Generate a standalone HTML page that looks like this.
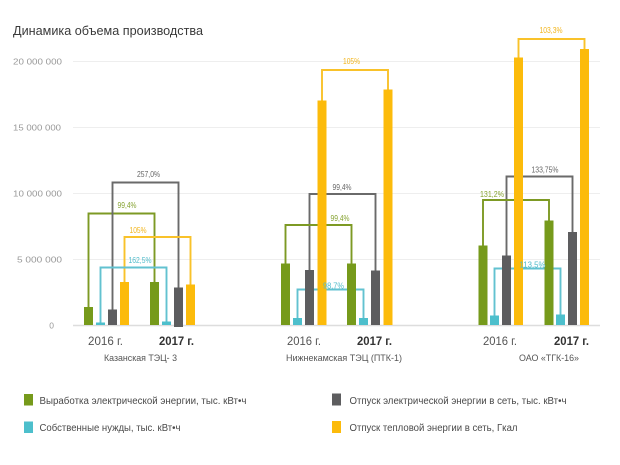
<!DOCTYPE html>
<html><head><meta charset="utf-8">
<style>
html,body{margin:0;padding:0;background:#fff;}
svg{display:block;}
text{font-family:"Liberation Sans","DejaVu Sans",sans-serif;}
</style></head>
<body>
<svg width="620" height="465" viewBox="0 0 620 465" xmlns="http://www.w3.org/2000/svg">
<rect width="620" height="465" fill="#fff"/>
<text x="13" y="35" font-size="13" fill="#3a3a3a" textLength="190" lengthAdjust="spacingAndGlyphs">Динамика объема производства</text>

<!-- grid -->
<g stroke="#eeeeee" stroke-width="1">
<line x1="73" y1="61.5" x2="600" y2="61.5"/>
<line x1="73" y1="127.5" x2="600" y2="127.5"/>
<line x1="73" y1="193.5" x2="600" y2="193.5"/>
<line x1="73" y1="259.5" x2="600" y2="259.5"/>
</g>
<line x1="73" y1="325.5" x2="600" y2="325.5" stroke="#dddddd" stroke-width="1.5"/>

<g font-size="8.5" fill="#999" text-anchor="end">
<text x="62" y="64.5" textLength="49" lengthAdjust="spacingAndGlyphs">20 000 000</text>
<text x="61" y="130.5" textLength="48" lengthAdjust="spacingAndGlyphs">15 000 000</text>
<text x="62" y="196.5" textLength="49" lengthAdjust="spacingAndGlyphs">10 000 000</text>
<text x="62" y="262.5" textLength="45" lengthAdjust="spacingAndGlyphs">5 000 000</text>
<text x="54" y="328.5">0</text>
</g>

<!-- brackets -->
<g fill="none" stroke-width="1.9">
<!-- group 1 -->
<path d="M88.5 307 V213.5 H154.5 V282" stroke="#7d9a24"/>
<path d="M112.5 309.5 V182.5 H178.5 V287.5" stroke="#6a6a6a"/>
<path d="M124.5 282 V237 H190.5 V284.5" stroke="#f9c22a"/>
<path d="M100.5 322.5 V267.5 H166.5 V321.5" stroke="#62c2d0"/>
<!-- group 2 -->
<path d="M322 100.5 V70 H388 V89.5" stroke="#f9c22a"/>
<path d="M309.5 270 V194 H375.5 V270.5" stroke="#6a6a6a"/>
<path d="M285.5 263.5 V225 H351.5 V263.5" stroke="#7d9a24"/>
<path d="M297.5 318 V289.5 H363.5 V318" stroke="#62c2d0"/>
<!-- group 3 -->
<path d="M518.5 57.5 V39 H584.5 V49" stroke="#f9c22a"/>
<path d="M506.5 255.5 V176.5 H572.5 V232" stroke="#6a6a6a"/>
<path d="M483 245.5 V200 H549 V220.5" stroke="#7d9a24"/>
<path d="M494.5 315.5 V268.5 H560.5 V314.5" stroke="#62c2d0"/>
</g>

<!-- bars -->
<g>
<!-- group 1 -->
<rect x="84" y="307" width="9" height="18" fill="#769a1b"/>
<rect x="96" y="322.5" width="9" height="2.5" fill="#4dbfcc"/>
<rect x="108" y="309.5" width="9" height="15.5" fill="#5d5d5f"/>
<rect x="120" y="282" width="9" height="43" fill="#fcbb0b"/>
<rect x="150" y="282" width="9" height="43" fill="#769a1b"/>
<rect x="162" y="321.5" width="9" height="3.5" fill="#4dbfcc"/>
<rect x="174" y="287.5" width="9" height="39.5" fill="#5d5d5f"/>
<rect x="186" y="284.5" width="9" height="40.5" fill="#fcbb0b"/>
<!-- group 2 -->
<rect x="281" y="263.5" width="9" height="61.5" fill="#769a1b"/>
<rect x="293" y="318" width="9" height="7" fill="#4dbfcc"/>
<rect x="305" y="270" width="9" height="55" fill="#5d5d5f"/>
<rect x="317.5" y="100.5" width="9" height="224.5" fill="#fcbb0b"/>
<rect x="347" y="263.5" width="9" height="61.5" fill="#769a1b"/>
<rect x="359" y="318" width="9" height="7" fill="#4dbfcc"/>
<rect x="371" y="270.5" width="9" height="54.5" fill="#5d5d5f"/>
<rect x="383.5" y="89.5" width="9" height="235.5" fill="#fcbb0b"/>
<!-- group 3 -->
<rect x="478.5" y="245.5" width="9" height="79.5" fill="#769a1b"/>
<rect x="490" y="315.5" width="9" height="9.5" fill="#4dbfcc"/>
<rect x="502" y="255.5" width="9" height="69.5" fill="#5d5d5f"/>
<rect x="514" y="57.5" width="9" height="267.5" fill="#fcbb0b"/>
<rect x="544.5" y="220.5" width="9" height="104.5" fill="#769a1b"/>
<rect x="556" y="314.5" width="9" height="10.5" fill="#4dbfcc"/>
<rect x="568" y="232" width="9" height="93" fill="#5d5d5f"/>
<rect x="580" y="49" width="9" height="276" fill="#fcbb0b"/>
</g>

<!-- percent labels -->
<g font-size="8" text-anchor="middle">
<text x="127" y="208" fill="#86a332" textLength="19" lengthAdjust="spacingAndGlyphs">99,4%</text>
<text x="148.5" y="177" fill="#666" textLength="23" lengthAdjust="spacingAndGlyphs">257,0%</text>
<text x="138" y="233" fill="#f2b51c" textLength="17" lengthAdjust="spacingAndGlyphs">105%</text>
<text x="140" y="263" fill="#52bccb" textLength="23" lengthAdjust="spacingAndGlyphs">162,5%</text>

<text x="351.5" y="64" fill="#f2b51c" textLength="17" lengthAdjust="spacingAndGlyphs">105%</text>
<text x="342" y="190" fill="#666" textLength="19" lengthAdjust="spacingAndGlyphs">99,4%</text>
<text x="340" y="221" fill="#86a332" textLength="19" lengthAdjust="spacingAndGlyphs">99,4%</text>
<text x="333.5" y="288.5" fill="#52bccb" textLength="21" lengthAdjust="spacingAndGlyphs">98,7%</text>

<text x="551" y="33" fill="#f2b51c" textLength="23" lengthAdjust="spacingAndGlyphs">103,3%</text>
<text x="545" y="172.5" fill="#666" textLength="27" lengthAdjust="spacingAndGlyphs">133,75%</text>
<text x="492" y="197" fill="#86a332" textLength="24" lengthAdjust="spacingAndGlyphs">131,2%</text>
<text x="532.5" y="267.5" fill="#52bccb" textLength="26" lengthAdjust="spacingAndGlyphs">113,5%</text>
</g>

<!-- x labels -->
<g font-size="12">
<text x="88" y="345" fill="#555" textLength="35" lengthAdjust="spacingAndGlyphs">2016 г.</text>
<text x="159" y="345" fill="#333" font-weight="bold" textLength="35" lengthAdjust="spacingAndGlyphs">2017 г.</text>
<text x="287" y="345" fill="#555" textLength="34" lengthAdjust="spacingAndGlyphs">2016 г.</text>
<text x="357" y="345" fill="#333" font-weight="bold" textLength="35" lengthAdjust="spacingAndGlyphs">2017 г.</text>
<text x="483" y="345" fill="#555" textLength="34" lengthAdjust="spacingAndGlyphs">2016 г.</text>
<text x="554" y="345" fill="#333" font-weight="bold" textLength="35" lengthAdjust="spacingAndGlyphs">2017 г.</text>
</g>
<g font-size="9.5" fill="#555">
<text x="104" y="361" textLength="73" lengthAdjust="spacingAndGlyphs">Казанская ТЭЦ- 3</text>
<text x="286" y="361" textLength="116" lengthAdjust="spacingAndGlyphs">Нижнекамская ТЭЦ (ПТК-1)</text>
<text x="519" y="361" textLength="60" lengthAdjust="spacingAndGlyphs">ОАО «ТГК-16»</text>
</g>

<!-- legend -->
<rect x="24" y="394" width="9" height="11.5" fill="#769a1b"/>
<rect x="24" y="421.5" width="9" height="11.5" fill="#4dbfcc"/>
<rect x="332" y="393.5" width="9" height="12" fill="#5d5d5f"/>
<rect x="332" y="421" width="9" height="12" fill="#fcbb0b"/>
<g font-size="10" fill="#4a4a4a">
<text x="39.5" y="404" textLength="207" lengthAdjust="spacingAndGlyphs">Выработка электрической энергии, тыс. кВт•ч</text>
<text x="39.5" y="431" textLength="141" lengthAdjust="spacingAndGlyphs">Собственные нужды, тыс. кВт•ч</text>
<text x="349.5" y="404" textLength="217" lengthAdjust="spacingAndGlyphs">Отпуск электрической энергии в сеть, тыс. кВт•ч</text>
<text x="349.5" y="431" textLength="168" lengthAdjust="spacingAndGlyphs">Отпуск тепловой энергии в сеть, Гкал</text>
</g>
</svg>
</body></html>
